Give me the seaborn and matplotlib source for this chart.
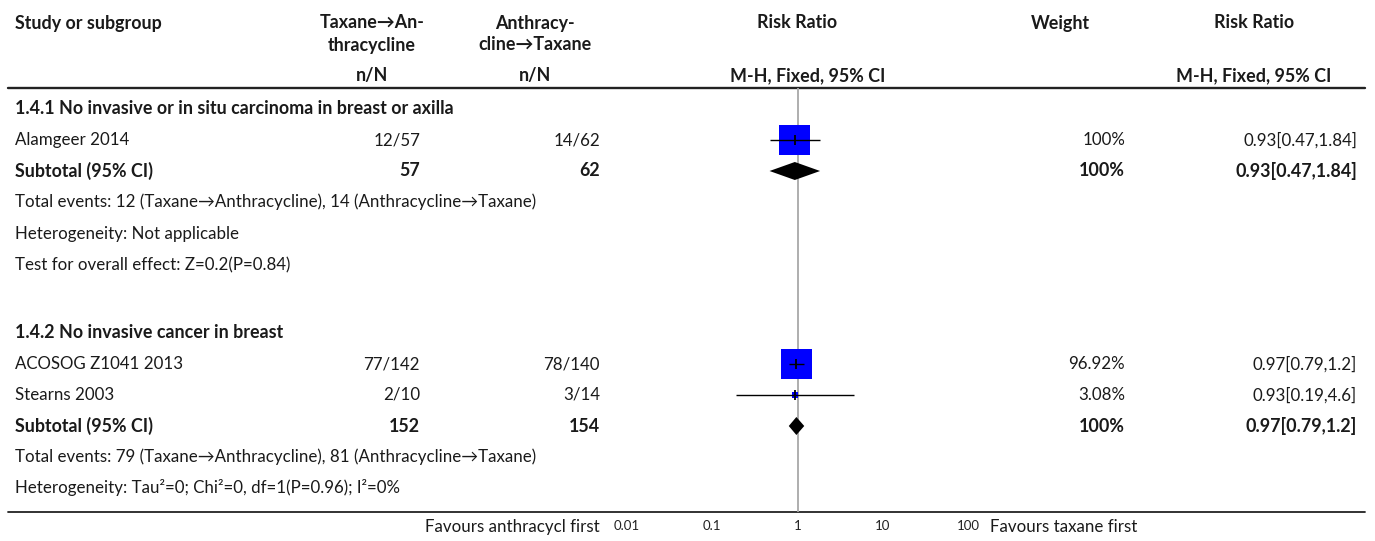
"""
Forest plot: taxane->anthracycline vs anthracycline->taxane, pathological complete response.
"""

import numpy as np
import pandas as pd
import matplotlib
matplotlib.use("Agg")
import matplotlib.pyplot as plt
from matplotlib.ticker import NullLocator
import seaborn as sns

# ─────────────────────────────────────────────
# Data
# ─────────────────────────────────────────────

studies = ["Alamgeer 2014", "ACOSOG Z1041 2013", "Stearns 2003"]
study_group = [0, 1, 1]
tax_n = [12, 77, 2]
tax_N = [57, 142, 10]
anth_n = [14, 78, 3]
anth_N = [62, 140, 14]
rr = [0.93, 0.97, 0.93]
rr_lo = [0.47, 0.79, 0.19]
rr_hi = [1.84, 1.2, 4.6]
weight = [100, 96.92, 3.08]

group_titles = [
    "1.4.1 No invasive or in situ carcinoma in breast or axilla",
    "1.4.2 No invasive cancer in breast",
]
sub_tax_N = [57, 152]
sub_anth_N = [62, 154]
sub_rr = [0.93, 0.97]
sub_lo = [0.47, 0.79]
sub_hi = [1.84, 1.2]
sub_weight = [100, 100]
total_events = [
    "Total events: 12 (Taxane→Anthracycline), 14 (Anthracycline→Taxane)",
    "Total events: 79 (Taxane→Anthracycline), 81 (Anthracycline→Taxane)",
]
heterogeneity = [
    "Heterogeneity: Not applicable",
    "Heterogeneity: Tau²=0; Chi²=0, df=1(P=0.96); I²=0%",
]
overall_effect = ["Test for overall effect: Z=0.2(P=0.84)", None]

axis_ticks = [0.01, 0.1, 1, 10, 100]
axis_tick_labels = ["0.01", "0.1", "1", "10", "100"]
favours_left = "Favours anthracycl first"
favours_right = "Favours taxane first"

# ─────────────────────────────────────────────
# Layout (pixel units of a 1375x541 canvas)
# ─────────────────────────────────────────────

W, H = 1375, 541
X_LEFT = 15
X_COL1_HEAD, X_COL1 = 372, 420
X_COL2_HEAD, X_COL2 = 535, 600
X_RR_HEAD, X_MH_HEAD = 797, 808
X_W_HEAD, X_W = 1060, 1125
X_RR2_HEAD, X_RR2 = 1254, 1357
FOREST_X = (600, 980)
FOREST_Y = (88, 512)
DECADE_PX = 85.25
PX_ONE = 797.5

group_rows = [
    {"title": 108, "studies": [140], "sub": 171, "total": 202, "het": 234, "test": 265},
    {"title": 333, "studies": [364, 395], "sub": 426, "total": 457, "het": 488},
]

FONT = ["Lato", "DejaVu Sans"]
FS = 12.2
FS_BOLD = 12.9

sns.set_style("white")
plt.rcParams["font.family"] = FONT

fig = plt.figure(figsize=(W / 100, H / 100), dpi=100)
tab = fig.add_axes([0, 0, 1, 1])
tab.set_xlim(0, W)
tab.set_ylim(H, 0)
tab.axis("off")


def txt(x, y, s, ha="left", bold=False, color="#1a1a1a"):
    tab.text(x, y, s, ha=ha, va="center",
             fontsize=FS_BOLD if bold else FS,
             fontweight="bold" if bold else "normal", color=color)


# header
txt(X_LEFT, 23, "Study or subgroup", bold=True)
txt(X_COL1_HEAD, 23, "Taxane→An-", ha="center", bold=True)
txt(X_COL1_HEAD, 45, "thracycline", ha="center", bold=True)
txt(X_COL2_HEAD, 23, "Anthracy-", ha="center", bold=True)
txt(X_COL2_HEAD, 45, "cline→Taxane", ha="center", bold=True)
txt(X_RR_HEAD, 23, "Risk Ratio", ha="center", bold=True)
txt(X_W_HEAD, 23, "Weight", ha="center", bold=True)
txt(X_RR2_HEAD, 23, "Risk Ratio", ha="center", bold=True)
txt(X_COL1_HEAD, 76, "n/N", ha="center", bold=True)
txt(X_COL2_HEAD, 76, "n/N", ha="center", bold=True)
txt(X_MH_HEAD, 76, "M-H, Fixed, 95% CI", ha="center", bold=True)
txt(X_RR2_HEAD, 76, "M-H, Fixed, 95% CI", ha="center", bold=True)

tab.plot([8, 1365], [FOREST_Y[0], FOREST_Y[0]], color="#222222", lw=1.7)
tab.plot([8, 1365], [FOREST_Y[1], FOREST_Y[1]], color="#222222", lw=1.3)


def ci_text(est, lo, hi):
    return f"{est:g}[{lo:g},{hi:g}]"


# study rows table
df = pd.DataFrame({
    "study": studies, "group": study_group,
    "tax_n": tax_n, "tax_N": tax_N, "anth_n": anth_n, "anth_N": anth_N,
    "rr": rr, "lo": rr_lo, "hi": rr_hi, "weight": weight,
})
df["y"] = [y for g in group_rows for y in g["studies"]]

for g, rows in enumerate(group_rows):
    txt(X_LEFT, rows["title"], group_titles[g], bold=True)
    sub = df[df["group"] == g]
    for _, r in sub.iterrows():
        txt(X_LEFT, r["y"], r["study"])
        txt(X_COL1, r["y"], f"{r['tax_n']}/{r['tax_N']}", ha="right")
        txt(X_COL2, r["y"], f"{r['anth_n']}/{r['anth_N']}", ha="right")
        txt(X_W, r["y"], f"{r['weight']:g}%", ha="right")
        txt(X_RR2, r["y"], ci_text(r["rr"], r["lo"], r["hi"]), ha="right")
    ys = rows["sub"]
    txt(X_LEFT, ys, "Subtotal (95% CI)", bold=True)
    txt(X_COL1, ys, str(sub_tax_N[g]), ha="right", bold=True)
    txt(X_COL2, ys, str(sub_anth_N[g]), ha="right", bold=True)
    txt(X_W, ys, f"{sub_weight[g]:g}%", ha="right", bold=True)
    txt(X_RR2, ys, ci_text(sub_rr[g], sub_lo[g], sub_hi[g]), ha="right", bold=True)
    txt(X_LEFT, rows["total"], total_events[g])
    txt(X_LEFT, rows["het"], heterogeneity[g])
    if overall_effect[g]:
        txt(X_LEFT, rows["test"], overall_effect[g])

txt(FOREST_X[0], 527, favours_left, ha="right")
txt(990, 527, favours_right)

# ─────────────────────────────────────────────
# Forest panel (log scale)
# ─────────────────────────────────────────────

x0, x1 = FOREST_X
y0, y1 = FOREST_Y
fax = fig.add_axes([x0 / W, 1 - y1 / H, (x1 - x0) / W, (y1 - y0) / H])
fax.patch.set_alpha(0)
fax.set_xscale("log")
fax.set_xlim(10 ** ((x0 - PX_ONE) / DECADE_PX), 10 ** ((x1 - PX_ONE) / DECADE_PX))
fax.set_ylim(y1, y0)

fax.axvline(1, color="#a8a8a8", lw=1.3, zorder=1)

sns.scatterplot(data=df, x="rr", y="y", size="weight", sizes=(0, 498),
                size_norm=(0, 100), marker="s", color="#0000ff", linewidth=0,
                legend=False, ax=fax, zorder=3)
fax.hlines(df["y"], df["lo"], df["hi"], color="black", lw=1.0, zorder=4)
fax.plot(df["rr"], df["y"], ls="none", marker="|", ms=7, mew=1.3,
         color="black", zorder=5)

for g, rows in enumerate(group_rows):
    ys = rows["sub"]
    fax.fill([sub_lo[g], sub_rr[g], sub_hi[g], sub_rr[g]],
             [ys, ys - 9, ys, ys + 9], color="black", lw=0, zorder=4)

fax.set_xticks(axis_ticks, axis_tick_labels)
fax.xaxis.set_minor_locator(NullLocator())
fax.set_yticks([])
fax.tick_params(axis="x", direction="in", length=5, width=0.9, color="#333333",
                labelsize=9.5, labelcolor="#222222", pad=6)
for sp in fax.spines.values():
    sp.set_visible(False)
fax.set_xlabel("")
fax.set_ylabel("")

plt.savefig("out.png", dpi=100)
plt.close()
